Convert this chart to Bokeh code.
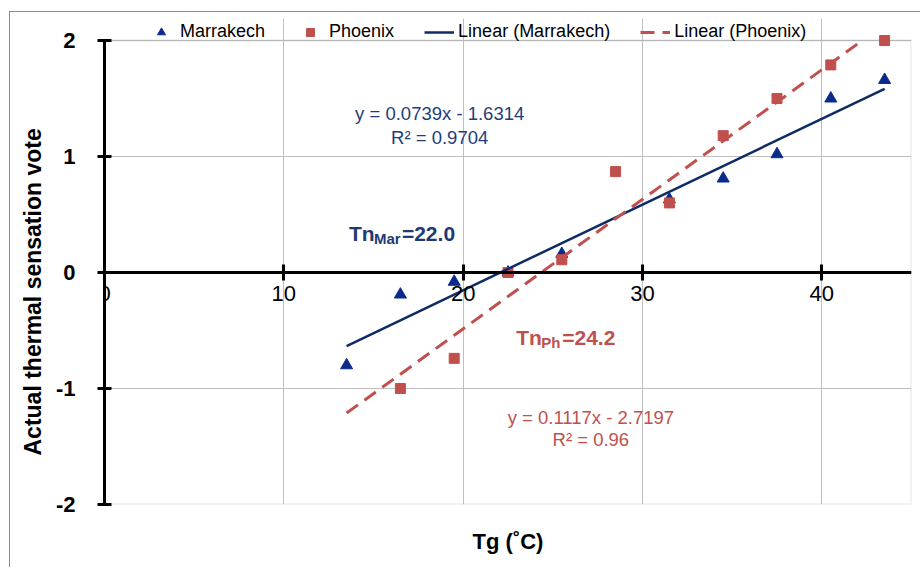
import numpy as np
from bokeh.plotting import figure
from bokeh.models import (Range1d, FixedTicker, Legend, LegendItem, LinearAxis, Title,
                          BoxAnnotation)
from bokeh.core.properties import value
from bokeh.embed import file_html
from bokeh.resources import INLINE

# ---- data ----
mar_x = [13.5, 16.5, 19.5, 22.5, 25.5, 31.5, 34.5, 37.5, 40.5, 43.5]
mar_y = [-0.80, -0.19, -0.08, 0.00, 0.16, 0.63, 0.81, 1.02, 1.50, 1.66]
ph_x = [16.5, 19.5, 22.5, 25.5, 28.5, 31.5, 34.5, 37.5, 40.5, 43.5]
ph_y = [-1.00, -0.74, 0.00, 0.11, 0.87, 0.60, 1.18, 1.50, 1.79, 2.00]
mar_slope, mar_intercept = 0.0739, -1.6314
ph_slope, ph_intercept = 0.1117, -2.7197
trend_x = [13.5, 43.5]
x_min, x_max = 0, 45
y_min, y_max = -2, 2
x_ticks = [0, 10, 20, 30, 40]
x_tick_labels = ["0", "10", "20", "30", "40"]
y_ticks = [-2, -1, 0, 1, 2]
y_tick_labels = ["-2", "-1", "0", "1", "2"]
mar_eq = ["y = 0.0739x - 1.6314", "R² = 0.9704"]
ph_eq = ["y = 0.1117x - 2.7197", "R² = 0.96"]
tn_mar = ["Tn", "Mar", "=22.0"]
tn_ph = ["Tn", "Ph", "=24.2"]

FONT = "Liberation Sans"
NAVY = "#0A2B8C"
NAVY_LINE = "#0D2B64"
NAVY_TEXT = "#1F3D7A"
RED = "#C0504D"
GRID = "#BFBFBF"

# frame reaches a little above y=2 so that the legend fits inside it
p = figure(width=911, height=556, output_backend="svg", toolbar_location=None,
           x_range=Range1d(x_min, x_max), y_range=Range1d(y_min, y_max + 0.19),
           min_border_left=94, min_border_right=10, min_border_top=6, min_border_bottom=64)
p.margin = (11, 0, 0, 9)
p.styles = {"border-left": "1px solid #8C8C8C", "border-top": "1px solid #8C8C8C"}
p.background_fill_color = "white"
p.border_fill_color = "white"
p.outline_line_color = None

# grids
p.xgrid.ticker = FixedTicker(ticks=x_ticks[1:])
p.xgrid.bounds = (y_min, y_max)
p.xgrid.grid_line_color = GRID
p.ygrid.grid_line_color = GRID

# plot-area border
p.add_layout(BoxAnnotation(left=x_min, right=x_max, bottom=y_min, top=y_max,
                           fill_alpha=0, line_color="#A6A6A6", line_width=2,
                           level="underlay"))

# x axis through y = 0
xa = p.xaxis[0]
xa.fixed_location = 0
xa.ticker = FixedTicker(ticks=x_ticks)
xa.major_label_overrides = {t: s for t, s in zip(x_ticks, x_tick_labels)}
xa.axis_line_width = 3
xa.axis_line_color = "black"
xa.major_tick_line_width = 3
xa.major_tick_line_color = "black"
xa.major_tick_in = 8
xa.major_tick_out = 8
xa.minor_tick_line_color = None
xa.major_label_text_font = FONT
xa.major_label_text_font_size = "22px"
xa.major_label_text_color = "black"
xa.major_label_standoff = 5

# title axis at the bottom
ta = LinearAxis(ticker=FixedTicker(ticks=[]), axis_line_color=None,
                major_tick_line_color=None, minor_tick_line_color=None,
                major_tick_in=0, major_tick_out=0, major_label_text_font_size="1px",
                axis_label="Tg (˚C)", axis_label_text_font=FONT,
                axis_label_text_font_size="22px", axis_label_text_font_style="bold",
                axis_label_text_color="black", axis_label_standoff=24)
p.add_layout(ta, "below")

# y axis (left edge = x 0)
ya = p.yaxis[0]
ya.ticker = FixedTicker(ticks=y_ticks)
ya.bounds = (y_min, y_max)
ya.axis_line_width = 3
ya.axis_line_color = "black"
ya.major_tick_line_width = 3
ya.major_tick_line_color = "black"
ya.major_tick_in = 7
ya.major_tick_out = 7
ya.minor_tick_line_color = None
ya.major_label_overrides = {t: s for t, s in zip(y_ticks, y_tick_labels)}
ya.major_label_text_font = FONT
ya.major_label_text_font_size = "22px"
ya.major_label_text_font_style = "bold"
ya.major_label_text_color = "black"
ya.major_label_standoff = 22

p.add_layout(Title(text="Actual thermal sensation vote", align="left", vertical_align="bottom",
                   offset=49, standoff=14, text_font=FONT, text_font_size="23px",
                   text_font_style="bold", text_color="black"), "left")

# data
r_mar = p.scatter(mar_x, mar_y, marker="triangle", size=12, fill_color=NAVY, line_color=NAVY)
r_ph = p.scatter(ph_x, ph_y, marker="square", size=10, fill_color=RED, line_color=RED)

tx = np.array(trend_x)
r_mar_l = p.line(tx, mar_slope * tx + mar_intercept, line_color=NAVY_LINE, line_width=2.5)
# Phoenix trend line stops where it leaves the plot area (y = 2)
ph_end = min(trend_x[1], (y_max - ph_intercept) / ph_slope)
tpx = np.array([trend_x[0], ph_end])
r_ph_l = p.line(tpx, ph_slope * tpx + ph_intercept, line_color=RED, line_width=3, line_dash="14 8")

# equations
p.text(x=[18.69, 18.69], y=[1.371, 1.164], text=mar_eq, text_align="center",
       text_baseline="alphabetic", text_font=value(FONT), text_font_size="18.5px",
       text_color=NAVY_TEXT)
p.text(x=[27.12, 27.12], y=[-1.25, -1.44], text=ph_eq, text_align="center",
       text_baseline="alphabetic", text_font=value(FONT), text_font_size="18.5px",
       text_color=RED)

# Tn labels (with subscripts)
def tn_label(x, y, parts, color, sub_w):
    p.text(x=[x], y=[y], text=[parts[0]], text_align="left", text_baseline="alphabetic",
           text_font=value(FONT), text_font_size="21px", text_font_style="bold", text_color=color)
    p.text(x=[x], y=[y], text=[parts[1]], x_offset=25, y_offset=5, text_align="left",
           text_baseline="alphabetic", text_font=value(FONT), text_font_size="15px",
           text_font_style="bold", text_color=color)
    p.text(x=[x], y=[y], text=[parts[2]], x_offset=25 + sub_w, text_align="left",
           text_baseline="alphabetic", text_font=value(FONT), text_font_size="21px",
           text_font_style="bold", text_color=color)

tn_label(13.63, 0.336, tn_mar, "#1F3A73", 28)
tn_label(22.96, -0.56, tn_ph, RED, 21)

# legend (inside the strip above y = 2)
legend = Legend(items=[
    LegendItem(label="Marrakech", renderers=[r_mar]),
    LegendItem(label="Phoenix", renderers=[r_ph]),
    LegendItem(label="Linear (Marrakech)", renderers=[r_mar_l]),
    LegendItem(label="Linear (Phoenix)", renderers=[r_ph_l]),
], orientation="horizontal", location=(42, 462), padding=0, margin=0, spacing=30,
    glyph_width=30, glyph_height=20, label_height=20, label_standoff=4,
    label_text_font=FONT, label_text_font_size="18px", label_text_color="black",
    border_line_color=None, background_fill_alpha=0)
p.add_layout(legend)

open("out.html", "w").write(file_html(p, INLINE))
